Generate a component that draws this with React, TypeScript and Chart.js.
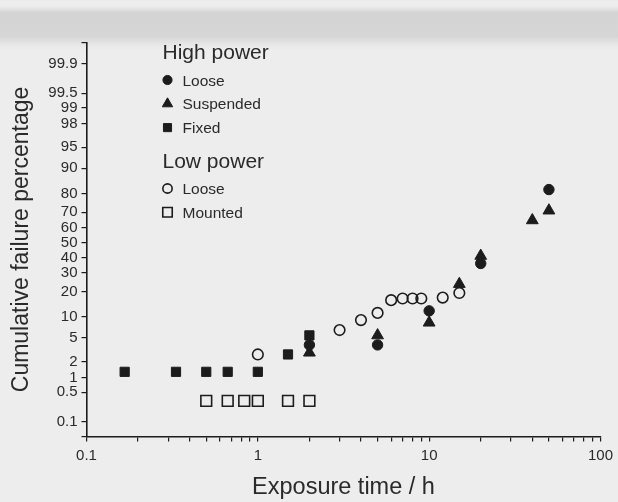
import React, { useEffect, useRef } from 'react';
import { Chart, Scale, registerables } from 'chart.js';
import { drawPoint } from 'chart.js/helpers';

// Exposure time (h) and cumulative failure percentage for each test group
const HP_LOOSE_T = [2, 5, 10, 20, 50];
const HP_LOOSE_P = [3.9, 3.9, 12, 36, 82];
const HP_SUSP_T = [2, 5, 10, 15, 20, 40, 50];
const HP_SUSP_P = [2.9, 5.5, 8.4, 23.8, 41, 65, 71];
const HP_FIXED_T = [0.167, 0.333, 0.5, 0.667, 1, 1.5, 2];
const HP_FIXED_P = [1.3, 1.3, 1.3, 1.3, 1.3, 2.7, 5.5];
const LP_LOOSE_T = [1, 3, 4, 5, 6, 7, 8, 9, 12, 15];
const LP_LOOSE_P = [2.7, 6.6, 9.1, 11.3, 16.1, 16.8, 16.8, 16.8, 17.2, 19.3];
const LP_MOUNTED_T = [0.5, 0.667, 0.833, 1, 1.5, 2];
const LP_MOUNTED_P = [0.32, 0.32, 0.32, 0.32, 0.32, 0.32];

const SERIES_LABELS = ['Loose', 'Suspended', 'Fixed', 'Loose', 'Mounted'];
const GROUP_TITLES = ['High power', 'Low power'];

// Probability-axis ticks (percent) and range
const PCT_TICKS = [0.1, 0.5, 1, 2, 5, 10, 20, 30, 40, 50, 60, 70, 80, 90, 95, 98, 99, 99.5, 99.9];
const PCT_MIN = 0.042;
const PCT_MAX = 99.972;

// Log time axis ticks
const X_DECADES = [0.1, 1, 10, 100];
const X_MINOR = [2, 3, 4, 5, 6, 7, 8, 9];

const INK = '#1c1c1c';
const TEXT = '#2a2a2a';
const FONT = '"Liberation Sans", Arial, Helvetica, sans-serif';

// Inverse standard normal CDF (Acklam's rational approximation)
function probit(p: number): number {
  const a = [-3.969683028665376e1, 2.209460984245205e2, -2.759285104469687e2, 1.38357751867269e2, -3.066479806614716e1, 2.506628277459239];
  const b = [-5.447609879822406e1, 1.615858368580409e2, -1.556989798598866e2, 6.680131188771972e1, -1.328068155288572e1];
  const c = [-7.784894002430293e-3, -3.223964580411365e-1, -2.400758277161838, -2.549671348283442, 4.374664141464968, 2.938163982698783];
  const d = [7.784695709041462e-3, 3.224671290700398e-1, 2.445134137142996, 3.754408661907416];
  const pl = 0.02425;
  if (p < pl) {
    const q = Math.sqrt(-2 * Math.log(p));
    return (((((c[0] * q + c[1]) * q + c[2]) * q + c[3]) * q + c[4]) * q + c[5]) / ((((d[0] * q + d[1]) * q + d[2]) * q + d[3]) * q + 1);
  }
  if (p > 1 - pl) {
    const q = Math.sqrt(-2 * Math.log(1 - p));
    return -(((((c[0] * q + c[1]) * q + c[2]) * q + c[3]) * q + c[4]) * q + c[5]) / ((((d[0] * q + d[1]) * q + d[2]) * q + d[3]) * q + 1);
  }
  const q = p - 0.5;
  const r = q * q;
  return ((((((a[0] * r + a[1]) * r + a[2]) * r + a[3]) * r + a[4]) * r + a[5]) * q) / (((((b[0] * r + b[1]) * r + b[2]) * r + b[3]) * r + b[4]) * r + 1);
}

function normCdf(z: number): number {
  const t = 1 / (1 + 0.3275911 * Math.abs(z) / Math.SQRT2);
  const y = 1 - (((((1.061405429 * t - 1.453152027) * t) + 1.421413741) * t - 0.284496736) * t + 0.254829592) * t * Math.exp(-(z * z) / 2);
  return z >= 0 ? 0.5 * (1 + y) : 0.5 * (1 - y);
}

// Normal-probability scale: values are percentages, spaced by their z-score
class ProbitScale extends Scale {
  static id = 'probit';
  static defaults = {};
  _zStart = 0;
  _zEnd = 1;

  determineDataLimits() {
    const { min, max } = this.getMinMax(true);
    const o: any = this.options;
    this.min = Number.isFinite(o.min) ? o.min : min;
    this.max = Number.isFinite(o.max) ? o.max : max;
  }

  buildTicks() {
    return [this.min, ...PCT_TICKS, this.max].map((value) => ({ value }));
  }

  getLabelForValue(value: number) {
    return String(value);
  }

  configure() {
    super.configure();
    this._zStart = probit(this.min / 100);
    this._zEnd = probit(this.max / 100);
  }

  getPixelForValue(value: number) {
    const z = probit(value / 100);
    return this.getPixelForDecimal((z - this._zStart) / (this._zEnd - this._zStart));
  }

  getValueForPixel(pixel: number) {
    const z = this._zStart + this.getDecimalForPixel(pixel) * (this._zEnd - this._zStart);
    return normCdf(z) * 100;
  }
}

Chart.register(...registerables, ProbitScale);

const toPoints = (t: number[], p: number[]) => t.map((x, i) => ({ x, y: p[i] }));

// Scanned-page backdrop
const paperPlugin = {
  id: 'paper',
  beforeDraw(chart: any) {
    const { ctx, width, height } = chart;
    ctx.save();
    ctx.fillStyle = '#ededed';
    ctx.fillRect(0, 0, width, height);
    const g = ctx.createLinearGradient(0, 6, 0, 50);
    g.addColorStop(0, 'rgba(215,215,215,0)');
    g.addColorStop(0.15, 'rgba(212,212,212,1)');
    g.addColorStop(0.7, 'rgba(214,214,214,1)');
    g.addColorStop(1, 'rgba(226,226,226,0)');
    ctx.fillStyle = g;
    ctx.fillRect(0, 6, width, 44);
    ctx.restore();
  },
};

// Grouped key: heading, then marker + label per series
const groupedLegendPlugin = {
  id: 'groupedLegend',
  afterDraw(chart: any) {
    const { ctx } = chart;
    const ds = chart.data.datasets;
    const groups = [
      { title: GROUP_TITLES[0], items: [0, 1, 2], y: 59 },
      { title: GROUP_TITLES[1], items: [3, 4], y: 167.5 },
    ];
    const x0 = 162.5;
    ctx.save();
    ctx.textAlign = 'left';
    ctx.textBaseline = 'alphabetic';
    groups.forEach((g) => {
      ctx.font = `21px ${FONT}`;
      ctx.fillStyle = TEXT;
      ctx.fillText(g.title, x0, g.y);
      g.items.forEach((idx, k) => {
        const d = ds[idx];
        const cy = g.y + 21 + k * 23.8;
        ctx.fillStyle = d.backgroundColor;
        ctx.strokeStyle = d.borderColor;
        ctx.lineWidth = d.borderWidth;
        drawPoint(ctx, { pointStyle: d.pointStyle, radius: d.pointRadius * 0.88, rotation: 0, borderWidth: d.borderWidth }, x0 + 5, cy);
        ctx.font = `15.5px ${FONT}`;
        ctx.fillStyle = TEXT;
        ctx.fillText(SERIES_LABELS[idx], x0 + 20, cy + 5.6);
      });
    });
    ctx.restore();
  },
};

export default function App() {
  const ref = useRef<HTMLCanvasElement | null>(null);

  useEffect(() => {
    if (!ref.current) return;
    const filled = { backgroundColor: INK, borderColor: INK, borderWidth: 1 };
    const open = { backgroundColor: 'rgba(0,0,0,0)', borderColor: INK, borderWidth: 1.6 };
    const chart = new Chart(ref.current, {
      type: 'scatter',
      data: {
        datasets: [
          { label: SERIES_LABELS[0], data: toPoints(HP_LOOSE_T, HP_LOOSE_P), pointStyle: 'circle', pointRadius: 5.2, ...filled },
          { label: SERIES_LABELS[1], data: toPoints(HP_SUSP_T, HP_SUSP_P), pointStyle: 'triangle', pointRadius: 6.8, ...filled },
          { label: SERIES_LABELS[2], data: toPoints(HP_FIXED_T, HP_FIXED_P), pointStyle: 'rect', pointRadius: 6.5, ...filled },
          { label: SERIES_LABELS[3], data: toPoints(LP_LOOSE_T, LP_LOOSE_P), pointStyle: 'circle', pointRadius: 5.3, ...open },
          { label: SERIES_LABELS[4], data: toPoints(LP_MOUNTED_T, LP_MOUNTED_P), pointStyle: 'rect', pointRadius: 7.6, ...open },
        ] as any,
      },
      options: {
        animation: false,
        responsive: true,
        maintainAspectRatio: false,
        layout: { padding: { top: 42.5, right: 13, left: 0, bottom: 0 } },
        plugins: { legend: { display: false }, tooltip: { enabled: false } },
        scales: {
          x: {
            type: 'logarithmic',
            position: 'bottom',
            min: 0.1,
            max: 100,
            afterBuildTicks: (s: any) => {
              const vals: number[] = [];
              X_DECADES.forEach((d, i) => {
                vals.push(d);
                if (i < X_DECADES.length - 1) X_MINOR.forEach((m) => vals.push(d * m));
              });
              s.ticks = vals.map((value) => ({ value }));
            },
            afterFit: (s: any) => {
              s.height = 65.6;
            },
            ticks: {
              autoSkip: false,
              maxRotation: 0,
              padding: 5,
              color: TEXT,
              font: { family: FONT, size: 15 },
              callback: (v: any) => (X_DECADES.includes(v) ? String(v) : ''),
            },
            grid: { display: true, drawOnChartArea: false, drawTicks: true, tickLength: 5, color: INK, lineWidth: 1.2 },
            border: { display: true, color: INK, width: 1.6 },
            title: {
              display: true,
              text: 'Exposure time / h',
              color: TEXT,
              font: { family: FONT, size: 23.5 },
              padding: { top: 0, bottom: 0 },
            },
          },
          y: {
            type: 'probit' as any,
            position: 'left',
            min: PCT_MIN,
            max: PCT_MAX,
            afterFit: (s: any) => {
              s.width = 86.5;
            },
            ticks: {
              autoSkip: false,
              padding: 4,
              color: TEXT,
              font: { family: FONT, size: 15 },
              callback: (v: any) => (PCT_TICKS.includes(v) ? String(v) : ''),
            },
            grid: { display: true, drawOnChartArea: false, drawTicks: true, tickLength: 5, color: INK, lineWidth: 1.2 },
            border: { display: true, color: INK, width: 1.6 },
            title: {
              display: true,
              text: 'Cumulative failure percentage',
              color: TEXT,
              font: { family: FONT, size: 23 },
              padding: { top: 8, bottom: 0 },
            },
          } as any,
        },
      },
      plugins: [paperPlugin, groupedLegendPlugin],
    });
    return () => chart.destroy();
  }, []);

  return (
    <div style={{ position: 'fixed', left: 0, top: 0, width: 618, height: 502 }}>
      <canvas ref={ref} />
    </div>
  );
}
